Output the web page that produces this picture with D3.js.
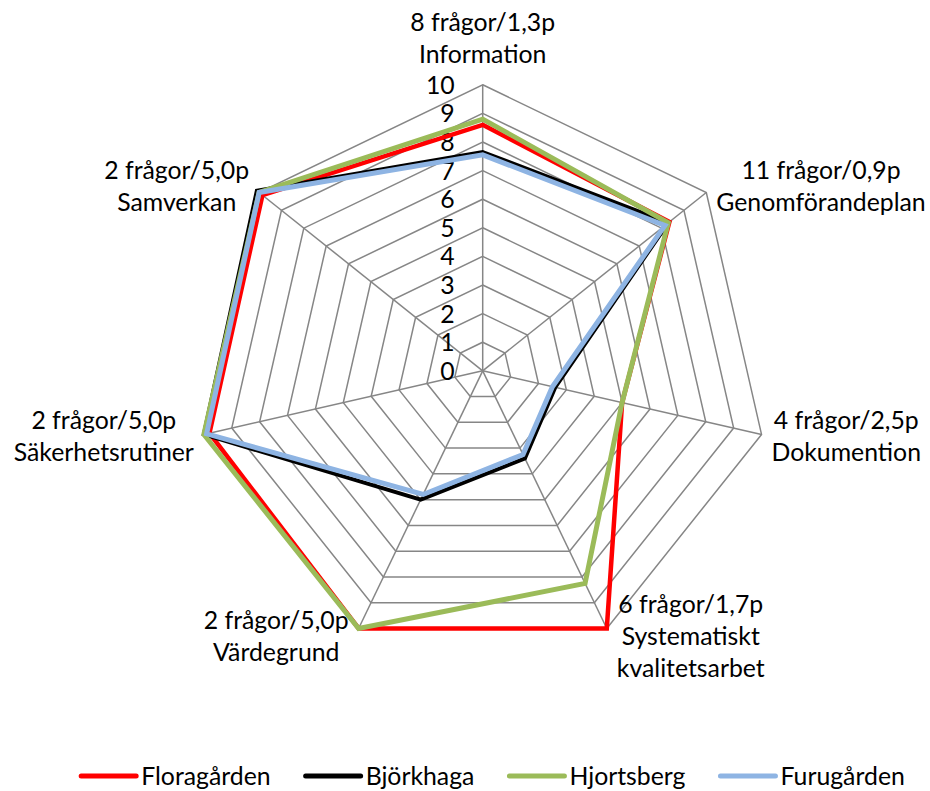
<!DOCTYPE html>
<html><head><meta charset="utf-8">
<script src="https://cdn.jsdelivr.net/npm/d3@7"></script>
<style>body{margin:0;background:#fff;} text{font-family:Lato,"Open Sans",sans-serif;}</style>
</head><body>
<script>
// ---- data ----
const categories = [
  ["8 frågor/1,3p", "Information"],
  ["11 frågor/0,9p", "Genomförandeplan"],
  ["4 frågor/2,5p", "Dokumention"],
  ["6 frågor/1,7p", "Systematiskt", "kvalitetsarbet"],
  ["2 frågor/5,0p", "Värdegrund"],
  ["2 frågor/5,0p", "Säkerhetsrutiner"],
  ["2 frågor/5,0p", "Samverkan"]
];
const seriesNames = ["Floragården", "Björkhaga", "Hjortsberg", "Furugården"];
const floragarden = [8.6, 8.35, 5.0, 10.0, 10.0, 9.8, 9.85];
const bjorkhaga   = [7.65, 8.3, 2.6, 3.4, 5.0, 10.0, 10.1];
const hjortsberg  = [8.8, 8.3, 5.0, 8.25, 10.0, 10.0, 10.0];
const furugarden  = [7.55, 8.15, 2.5, 3.25, 4.8, 9.9, 10.0];
const tickValues = [0,1,2,3,4,5,6,7,8,9,10];
const tickLabels = ["0","1","2","3","4","5","6","7","8","9","10"];

const seriesValues = [floragarden, bjorkhaga, hjortsberg, furugarden];
const colors = ["#ff0000", "#000000", "#9bbb59", "#8eb4e3"];
const widths = [4.5, 4, 5, 5];

// ---- layout ----
const W = 930, H = 791, cx = 482.7, cy = 370.8, R = 286;
const FS = 24.8;
const svg = d3.select("body").append("svg").attr("width", W).attr("height", H);
const r = d3.scaleLinear().domain([0, 10]).range([0, R]);
const n = categories.length;
const ang = d3.scaleLinear().domain([0, n]).range([0, 2 * Math.PI]);
const px = (i, v) => cx + r(v) * Math.sin(ang(i));
const py = (i, v) => cy - r(v) * Math.cos(ang(i));

const g = svg.append("g");
// rings
tickValues.slice(1).forEach(t => {
  g.append("path")
    .attr("d", d3.line()(d3.range(n).map(i => [px(i, t), py(i, t)])) + "Z")
    .attr("fill", "none").attr("stroke", "#868686").attr("stroke-width", 1.5);
});
// spokes
d3.range(n).forEach(i => {
  g.append("line").attr("x1", cx).attr("y1", cy)
    .attr("x2", px(i, 10)).attr("y2", py(i, 10))
    .attr("stroke", "#868686").attr("stroke-width", 1.5);
});
// tick labels
g.selectAll(".tick").data(tickValues).enter().append("text")
  .attr("x", cx - 28).attr("y", d => cy - r(d))
  .attr("dy", "0.36em").attr("text-anchor", "end")
  .attr("font-size", FS).attr("fill", "#000")
  .text((d, i) => tickLabels[i]);

// series
const radial = d3.lineRadial().angle((d, i) => ang(i)).radius(d => r(d)).curve(d3.curveLinearClosed);
seriesValues.forEach((vals, k) => {
  svg.append("path").attr("transform", `translate(${cx},${cy})`)
    .attr("d", radial(vals)).attr("fill", "none")
    .attr("stroke", colors[k]).attr("stroke-width", widths[k])
    .attr("stroke-linejoin", "miter");
});

// category labels
const LH = 32, gap = 10;
categories.forEach((lines, i) => {
  const a = ang(i), s = Math.sin(a), c = Math.cos(a);
  const vx = px(i, 10), vy = py(i, 10);
  const t = svg.append("text").attr("font-size", FS).attr("text-anchor", "middle").attr("fill", "#000");
  lines.forEach((l, j) => t.append("tspan").attr("x", 0).attr("dy", j === 0 ? 0 : LH).text(l));
  const bb = t.node().getBBox();
  let bx, by;
  const blockH = LH * (lines.length - 1);
  if (Math.abs(s) < 0.1) {
    bx = vx; by = vy - 16 - blockH - 6;
  } else {
    bx = vx + Math.sign(s) * (gap + bb.width / 2);
    by = vy - c * 9 - blockH / 2 + FS * 0.33;
  }
  t.attr("transform", `translate(${bx},${by})`);
});

// legend
const lg = svg.append("g");
let x = 0;
seriesNames.forEach((name, k) => {
  const it = lg.append("g");
  it.append("line").attr("x1", 0).attr("x2", 55).attr("y1", 0).attr("y2", 0)
    .attr("stroke", colors[k]).attr("stroke-width", 5).attr("stroke-linecap", "round");
  const tx = it.append("text").attr("x", 60).attr("dy", "0.36em").attr("font-size", FS).text(name);
  const w = 60 + tx.node().getComputedTextLength();
  it.attr("transform", `translate(${x},776)`);
  x += w + 35;
});
const total = x - 35;
lg.attr("transform", `translate(${493 - total / 2},0)`);
</script>
</body></html>
